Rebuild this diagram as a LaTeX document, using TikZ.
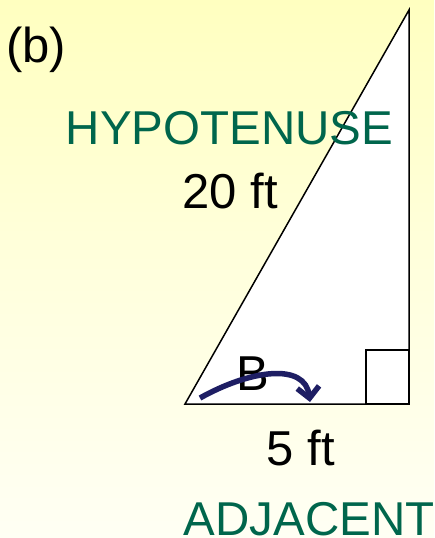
\documentclass[tikz,border=0pt]{standalone}
\usepackage{fontspec}
\setmainfont{Liberation Sans}
\usetikzlibrary{arrows.meta}
\definecolor{bgtop}{RGB}{255,255,192}
\definecolor{bgbot}{RGB}{255,255,244}
\definecolor{labgreen}{RGB}{0,102,76}
\definecolor{arrnavy}{RGB}{30,30,100}
\begin{document}
\begin{tikzpicture}[x=1pt,y=-1pt,
  lab/.style={inner sep=0pt,anchor=base,font=\fontsize{49}{49}\selectfont},
  glab/.style={lab,text=labgreen,font=\fontsize{47.5}{47.5}\selectfont},
  edge/.style={draw=black,line width=1.5pt}]
\useasboundingbox (0,0) rectangle (434,538);
\shade[top color=bgtop,bottom color=bgbot,middle color=bgtop!45!bgbot] (0,0) rectangle (434,538);
% triangle
\coordinate (A) at (185,404);
\coordinate (C) at (409,404);
\coordinate (T) at (409,10);
\filldraw[fill=white,edge,line join=miter] (A) -- (C) -- (T) -- cycle;
\coordinate (R1) at (366,350);
\draw[edge] (R1) rectangle (C);
% labels
\node[lab] (b) at (36,62) {(b)};
\node[glab] (hyp) at (229.5,144) {HYPOTENUSE};
\node[lab] (h20) at (230,208) {20 ft};
\node[lab] (B) at (253,390) {B};
\node[lab] (a5) at (301,465) {5 ft};
\node[glab] (adj) at (309,535.5) {ADJACENT};
% angle arrow
\coordinate (s) at (200,398);
\coordinate (e) at (310,402);
\draw[arrnavy,line width=5.5pt,-{Straight Barb[length=11pt,width=22pt,line cap=butt]}]
  (s) .. controls (250,370) and (305,362) .. (e);
\end{tikzpicture}
\end{document}
